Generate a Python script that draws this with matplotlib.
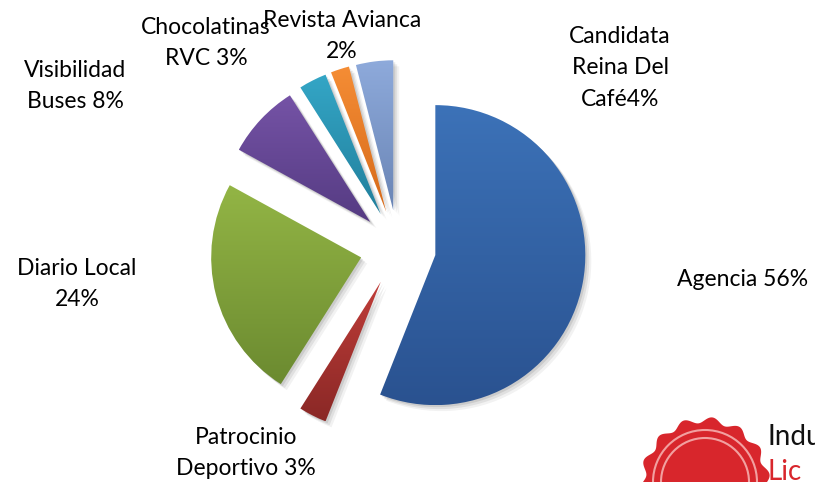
import numpy as np
import matplotlib.pyplot as plt
from matplotlib.colors import LinearSegmentedColormap
from matplotlib.patches import Wedge, Polygon, Circle

labels = ["Agencia 56%", "Patrocinio\nDeportivo 3%", "Diario Local\n24%",
          "Visibilidad\nBuses 8%", "Chocolatinas\nRVC 3%", "Revista Avianca\n2%",
          "Candidata\nReina Del\nCafé4%"]
shares = [56, 3, 24, 8, 3, 2, 4]
top_colors = ["#3c72b8", "#c03d39", "#93b545", "#7553a6", "#34a6c6", "#f58d35", "#8eaadb"]
bottom_colors = ["#2a5290", "#8a2826", "#6b8a30", "#553b82", "#217f9c", "#d66a1a", "#6a85b5"]
# label centres in pixel coords (from top)
label_xy = [(743, 280), (246, 453), (77, 284), (75, 86), (206, 43), (342, 36), (620, 68)]

W, H = 815, 482
plt.rcParams['font.family'] = ['Lato', 'DejaVu Sans']
fig = plt.figure(figsize=(W / 100, H / 100), dpi=100)
ax = fig.add_axes([0, 0, 1, 1])

radius = 150
wedges, _ = ax.pie(shares, center=(398, H - 248), radius=radius, startangle=90,
                   counterclock=False, explode=[38] * len(shares), frame=True)

grad = np.linspace(0, 1, 256).reshape(-1, 1)
for w, c0, c1 in zip(wedges, top_colors, bottom_colors):
    w.set_facecolor('none')
    w.set_edgecolor('none')
    # soft drop shadow
    for k, a in [(6, 0.05), (4, 0.07), (2, 0.09)]:
        s = Wedge((w.center[0] + k, w.center[1] - k), w.r, w.theta1, w.theta2,
                  facecolor='black', edgecolor='none', alpha=a, zorder=1)
        ax.add_patch(s)
    ext = w.get_path().get_extents()
    cmap = LinearSegmentedColormap.from_list('g', [c1, c0])
    im = ax.imshow(grad, cmap=cmap, extent=(ext.x0, ext.x1, ext.y0, ext.y1),
                   origin='lower', aspect='auto', zorder=2, interpolation='bilinear')
    im.set_clip_path(w)

for lab, (x, y) in zip(labels, label_xy):
    ax.text(x, H - y, lab, ha='center', va='center', fontsize=16.5,
            linespacing=1.6, color='black', zorder=5)

# logo in the corner
th = np.linspace(0, 2 * np.pi, 400)
rr = 62 + 3 * np.sin(14 * th)
lx, ly = 705, H - 482
ax.add_patch(Polygon(np.c_[lx + rr * np.cos(th), ly + rr * np.sin(th)],
                     facecolor='#d8262c', edgecolor='none', zorder=3))
for r0 in (52, 44):
    ax.add_patch(Circle((lx, ly), r0, facecolor='none', edgecolor='#f2a0a0', lw=1.5, zorder=4))
ax.text(768, H - 437, "Indu", fontsize=20, color='#111111', ha='left', va='center', zorder=5)
ax.text(768, H - 472, "Lic", fontsize=20, color='#d8262c', ha='left', va='center', zorder=5)

ax.set_xlim(0, W)
ax.set_ylim(0, H)
ax.set_aspect('auto')
ax.axis('off')
fig.savefig('out.png', dpi=100)
